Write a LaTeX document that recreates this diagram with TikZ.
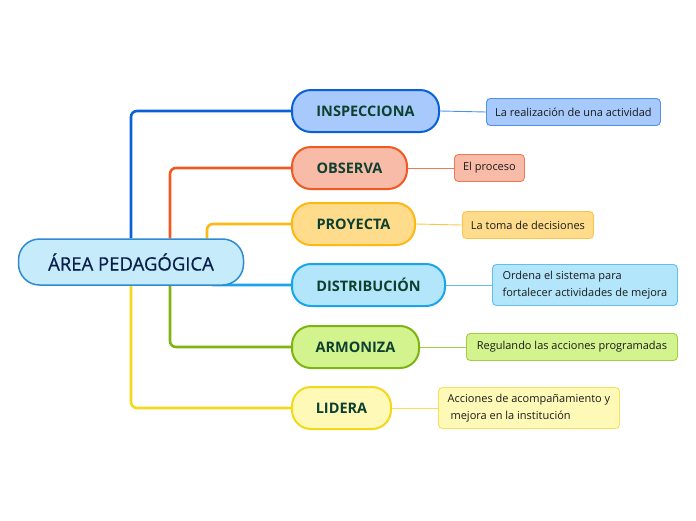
\documentclass[tikz,border=0pt]{standalone}
\usepackage{fontspec}
\setmainfont{Open Sans}
\newfontfamily\rootfont[FakeBold=0.7]{Open Sans}
\usetikzlibrary{positioning, backgrounds, calc}
\usepackage{xcolor}
\definecolor{RootFill}{HTML}{C6EBFB}
\definecolor{RootLine}{HTML}{2D8BD1}
\definecolor{RootInk}{HTML}{0B1E4A}
\definecolor{TopicInk}{HTML}{0E4030}
\definecolor{LeafInk}{HTML}{1A1A1A}
\definecolor{InsFill}{HTML}{A7C9FB}
\definecolor{InsLine}{HTML}{0A60D8}
\definecolor{InsSoft}{HTML}{4D90EE}
\definecolor{ObsFill}{HTML}{F8BBA8}
\definecolor{ObsLine}{HTML}{F25822}
\definecolor{ObsSoft}{HTML}{EE7A55}
\definecolor{ProFill}{HTML}{FFDC8C}
\definecolor{ProLine}{HTML}{FDB813}
\definecolor{ProSoft}{HTML}{FCC54A}
\definecolor{DisFill}{HTML}{B3E5FB}
\definecolor{DisLine}{HTML}{18A5EB}
\definecolor{DisSoft}{HTML}{5FC0F0}
\definecolor{ArmFill}{HTML}{D3F38E}
\definecolor{ArmLine}{HTML}{7CB50F}
\definecolor{ArmSoft}{HTML}{A0CF40}
\definecolor{LidFill}{HTML}{FFF9B8}
\definecolor{LidLine}{HTML}{F3D91C}
\definecolor{LidSoft}{HTML}{F5E05A}

\begin{document}
\begin{tikzpicture}[
            x=1pt, y=-1pt,
            root/.style={rectangle, rounded corners=21pt, draw=RootLine, fill=RootFill, line width=1.5pt, minimum height=46pt, minimum width=225pt, font=\rootfont\fontsize{18.5}{22}\selectfont, text=RootInk},
            topic/.style={rectangle, rounded corners=19pt, line width=2pt, minimum height=42pt, font=\fontsize{14.5}{17}\selectfont\bfseries, text=TopicInk},
            leaf/.style={rectangle, rounded corners=4pt, line width=0.9pt, align=left, inner xsep=7pt, minimum height=27pt, font=\fontsize{11}{17}\selectfont, text=LeafInk},
            branch/.style={line width=2.6pt, rounded corners=6pt},
            twig/.style={line width=0.9pt}
        ]
            \useasboundingbox (0,0) rectangle (696,520);

            \node[root] (area) at (131,262) {ÁREA PEDAGÓGICA};

            \node[topic, draw=InsLine, fill=InsFill, minimum width=147pt, anchor=west] (ins) at (291,111) {INSPECCIONA};
            \node[topic, draw=ObsLine, fill=ObsFill, minimum width=115pt, anchor=west] (obs) at (291,168) {OBSERVA};
            \node[topic, draw=ProLine, fill=ProFill, minimum width=123pt, anchor=west] (pro) at (291,224) {PROYECTA};
            \node[topic, draw=DisLine, fill=DisFill, minimum width=153pt, anchor=west] (dis) at (291,285) {DISTRIBUCIÓN};
            \node[topic, draw=ArmLine, fill=ArmFill, minimum width=127pt, anchor=west] (arm) at (291,347) {ARMONIZA};
            \node[topic, draw=LidLine, fill=LidFill, minimum width=99pt, anchor=west] (lid) at (291,408) {LIDERA};

            \node[leaf, draw=InsSoft, fill=InsFill, minimum width=174pt, anchor=west] (insleaf) at (486,112) {La realización de una actividad};
            \node[leaf, draw=ObsSoft, fill=ObsFill, minimum width=70pt, anchor=west] (obsleaf) at (454,168) {El proceso};
            \node[leaf, draw=ProSoft, fill=ProFill, minimum width=131pt, anchor=west] (proleaf) at (462,225) {La toma de decisiones};
            \node[leaf, draw=DisSoft, fill=DisFill, minimum width=185pt, minimum height=41pt, anchor=west] (disleaf) at (492,285) {Ordena el sistema para\\fortalecer actividades de mejora};
            \node[leaf, draw=ArmSoft, fill=ArmFill, minimum width=211pt, anchor=west] (armleaf) at (466,347) {Regulando las acciones programadas};
            \node[leaf, draw=LidSoft, fill=LidFill, minimum width=181pt, minimum height=41pt, anchor=west] (lidleaf) at (438,408) {Acciones de acompañamiento y\\\ mejora en la institución};

            \begin{scope}[on background layer]
                \draw[branch, InsLine] (area.north) |- (ins.west);
                \draw[branch, ObsLine] ([xshift=39pt]area.north) |- (obs.west);
                \draw[branch, ProLine] ([xshift=76pt]area.north) |- (pro.west);
                \draw[branch, DisLine] ([xshift=76pt,yshift=4pt]area.south) |- (dis.west);
                \draw[branch, ArmLine] ([xshift=39pt]area.south) |- (arm.west);
                \draw[branch, LidLine] (area.south) |- (lid.west);

                \draw[twig, InsSoft] (ins.east) -- (insleaf.west);
                \draw[twig, ObsSoft] (obs.east) -- (obsleaf.west);
                \draw[twig, ProSoft] (pro.east) -- (proleaf.west);
                \draw[twig, DisSoft] (dis.east) -- (disleaf.west);
                \draw[twig, ArmSoft] (arm.east) -- (armleaf.west);
                \draw[twig, LidSoft] (lid.east) -- (lidleaf.west);
            \end{scope}
        \end{tikzpicture}
\end{document}
